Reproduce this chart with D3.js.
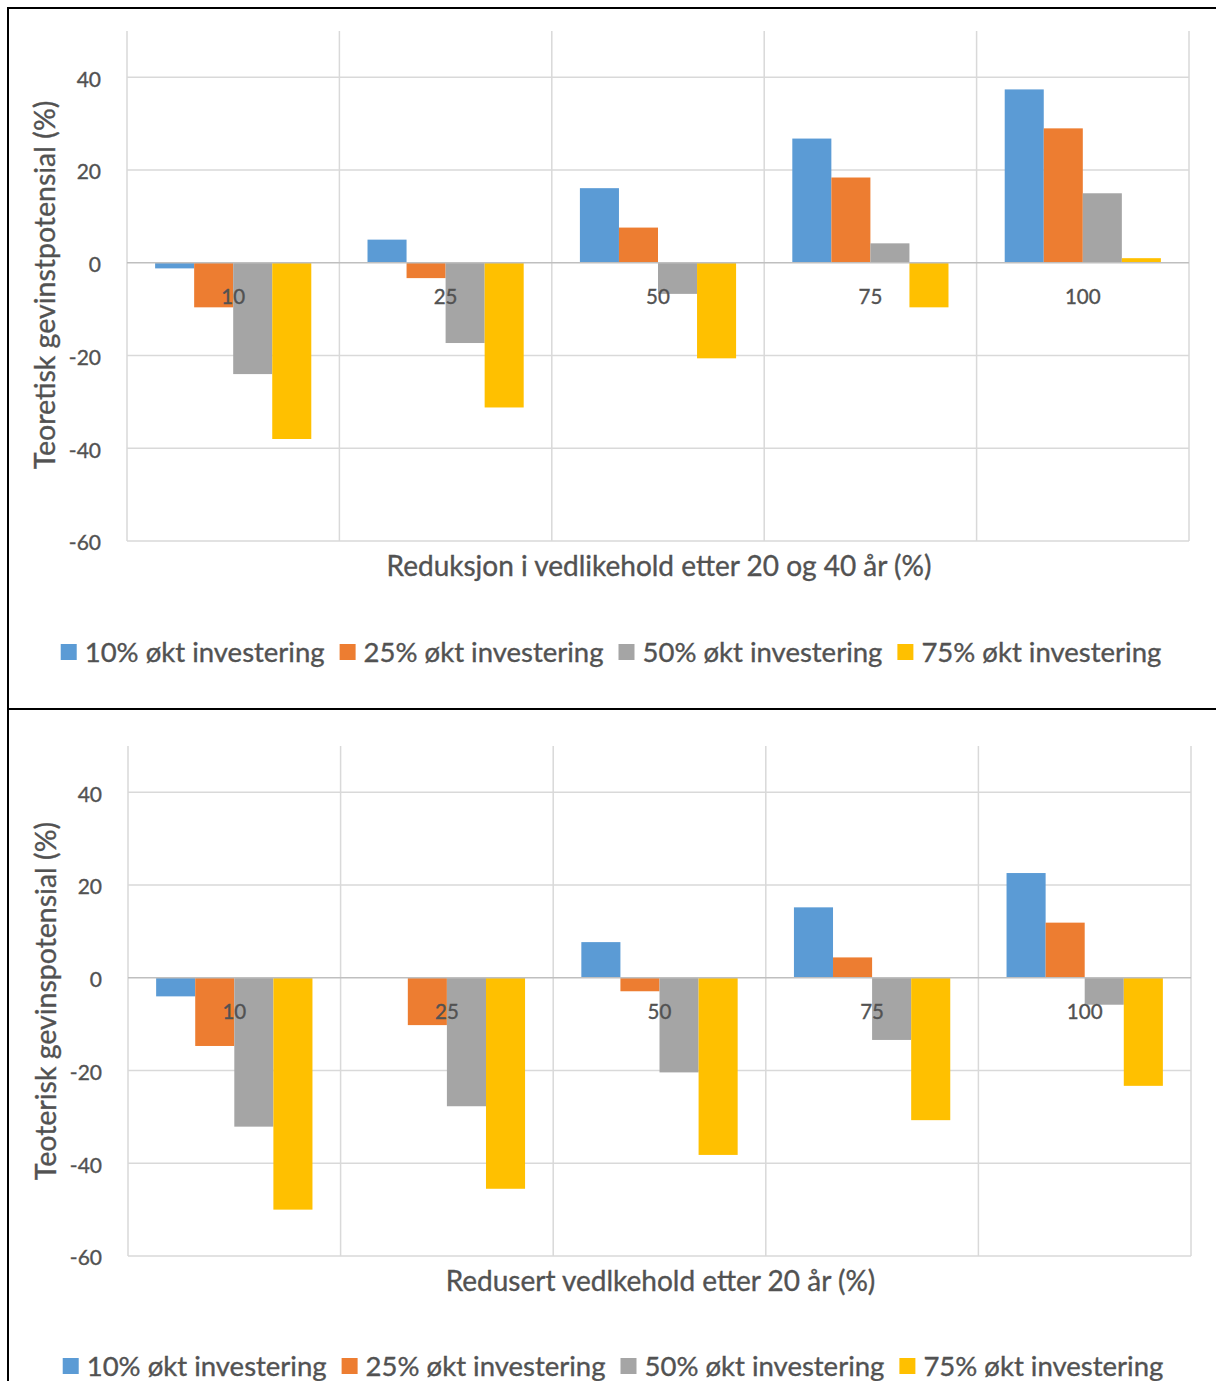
<!DOCTYPE html>
<html>
<head>
<meta charset="utf-8">
<script src="https://cdn.jsdelivr.net/npm/d3@7"></script>
<style>
  html, body { margin: 0; padding: 0; background: #fff; }
  svg { display: block; }
  text { font-family: Lato, "Open Sans", sans-serif; fill: #525252; stroke: #525252; stroke-width: 0.35; }
</style>
</head>
<body>
<svg id="chart" width="1216" height="1381"></svg>
<script>
// Categories: reduction in maintenance (%)
const categories = ["10", "25", "50", "75", "100"];
// Series names
const seriesNames = ["10% økt investering", "25% økt investering", "50% økt investering", "75% økt investering"];
const seriesColors = ["#5B9BD5", "#ED7D31", "#A5A5A5", "#FFC000"];
const yTicks = [-60, -40, -20, 0, 20, 40];

// Panel 1: reduction after 20 and 40 years
const top10 = [-1.2, 5.0, 16.1, 26.8, 37.4];
const top25 = [-9.6, -3.3, 7.6, 18.4, 29.0];
const top50 = [-24.0, -17.3, -6.7, 4.2, 15.0];
const top75 = [-38.0, -31.2, -20.6, -9.6, 1.0];

// Panel 2: reduced maintenance after 20 years
const bot10 = [-4.0, 0, 7.7, 15.2, 22.6];
const bot25 = [-14.7, -10.2, -2.9, 4.4, 11.9];
const bot50 = [-32.1, -27.7, -20.4, -13.4, -5.8];
const bot75 = [-50.0, -45.5, -38.2, -30.7, -23.3];

const svg = d3.select("#chart");

// Frame around the two panels
svg.append("path")
  .attr("d", "M1216,8 H8 V1381")
  .attr("fill", "none").attr("stroke", "#000").attr("stroke-width", 2);
svg.append("line")
  .attr("x1", 8).attr("x2", 1216).attr("y1", 709).attr("y2", 709)
  .attr("stroke", "#000").attr("stroke-width", 2);

function drawPanel(opts) {
  const g = svg.append("g");
  const series = [opts.s1, opts.s2, opts.s3, opts.s4];

  const x = d3.scaleBand().domain(categories).range([opts.left, opts.right]).padding(0);
  const xs = d3.scaleBand().domain(seriesNames).range([0, x.bandwidth()])
    .paddingInner(0).paddingOuter(0.72);
  const y = d3.scaleLinear().domain([-60, 50]).range([opts.bottom, opts.top]);

  // horizontal gridlines
  g.append("g").selectAll("line").data(yTicks.filter(t => t !== 0)).join("line")
    .attr("x1", opts.left).attr("x2", opts.right)
    .attr("y1", d => y(d)).attr("y2", d => y(d))
    .attr("stroke", "#D9D9D9").attr("stroke-width", 1.5);

  // vertical gridlines at category boundaries
  const bounds = categories.map(c => x(c)).concat([opts.right]);
  g.append("g").selectAll("line").data(bounds).join("line")
    .attr("x1", d => d).attr("x2", d => d)
    .attr("y1", opts.top).attr("y2", opts.bottom)
    .attr("stroke", "#D9D9D9").attr("stroke-width", 1.5);

  // y tick labels (plain hyphen for negatives)
  const yAxis = d3.axisLeft(y).tickValues(yTicks).tickSize(0).tickPadding(0)
    .tickFormat(d => String(d));
  const ya = g.append("g").attr("transform", `translate(${opts.left - 26},2)`).call(yAxis);
  ya.select(".domain").remove();
  ya.selectAll("text").attr("font-size", 21).attr("fill", "#525252")
    .style("font-family", "Lato, sans-serif");

  // bars
  series.forEach((vals, si) => {
    g.append("g").selectAll("rect").data(vals).join("rect")
      .attr("x", (d, i) => x(categories[i]) + xs(seriesNames[si]))
      .attr("width", xs.bandwidth())
      .attr("y", d => y(Math.max(0, d)))
      .attr("height", d => Math.abs(y(d) - y(0)))
      .attr("fill", seriesColors[si]);
  });

  // zero line
  g.append("line")
    .attr("x1", opts.left).attr("x2", opts.right)
    .attr("y1", y(0)).attr("y2", y(0))
    .attr("stroke", "#BFBFBF").attr("stroke-width", 1.5);

  // category labels just below the zero line
  g.append("g").selectAll("text").data(categories).join("text")
    .attr("x", d => x(d) + x.bandwidth() / 2)
    .attr("y", y(0) + 41)
    .attr("text-anchor", "middle")
    .attr("font-size", 20.5)
    .text(d => d);

  // axis titles
  g.append("text")
    .attr("x", (opts.left + opts.right) / 2 + 1)
    .attr("y", opts.bottom + 35)
    .attr("text-anchor", "middle")
    .attr("font-size", 28)
    .text(opts.xTitle);

  g.append("text")
    .attr("transform", `translate(${opts.yTitleX},${opts.yTitleY}) rotate(-90)`)
    .attr("text-anchor", "middle")
    .attr("font-size", 28.5)
    .text(opts.yTitle);

  // legend, laid out in one centred row
  const leg = g.append("g");
  const items = leg.selectAll("g").data(seriesNames).join("g");
  items.append("rect").attr("width", 16).attr("height", 16)
    .attr("y", -8).attr("fill", (d, i) => seriesColors[i]);
  items.append("text").attr("x", 24).attr("y", 10).attr("font-size", 27.5).text(d => d);
  let cx = 0;
  const gap = 15;
  items.each(function () {
    const w = this.getBBox().width;
    d3.select(this).attr("transform", `translate(${cx},0)`);
    cx += w + gap;
  });
  const total = cx - gap;
  leg.attr("transform", `translate(${opts.legendCenter - total / 2},${opts.legendY})`);
}

drawPanel({
  left: 127, right: 1189, top: 31, bottom: 541,
  s1: top10, s2: top25, s3: top50, s4: top75,
  xTitle: "Reduksjon i vedlikehold etter 20 og 40 år (%)",
  yTitle: "Teoretisk gevinstpotensial (%)",
  yTitleX: 55, yTitleY: 285, legendY: 652, legendCenter: 611
});

drawPanel({
  left: 128, right: 1191, top: 746, bottom: 1256,
  s1: bot10, s2: bot25, s3: bot50, s4: bot75,
  xTitle: "Redusert vedlkehold etter 20 år (%)",
  yTitle: "Teoterisk gevinspotensial (%)",
  yTitleX: 56, yTitleY: 1001, legendY: 1366, legendCenter: 613
});
</script>
</body>
</html>
